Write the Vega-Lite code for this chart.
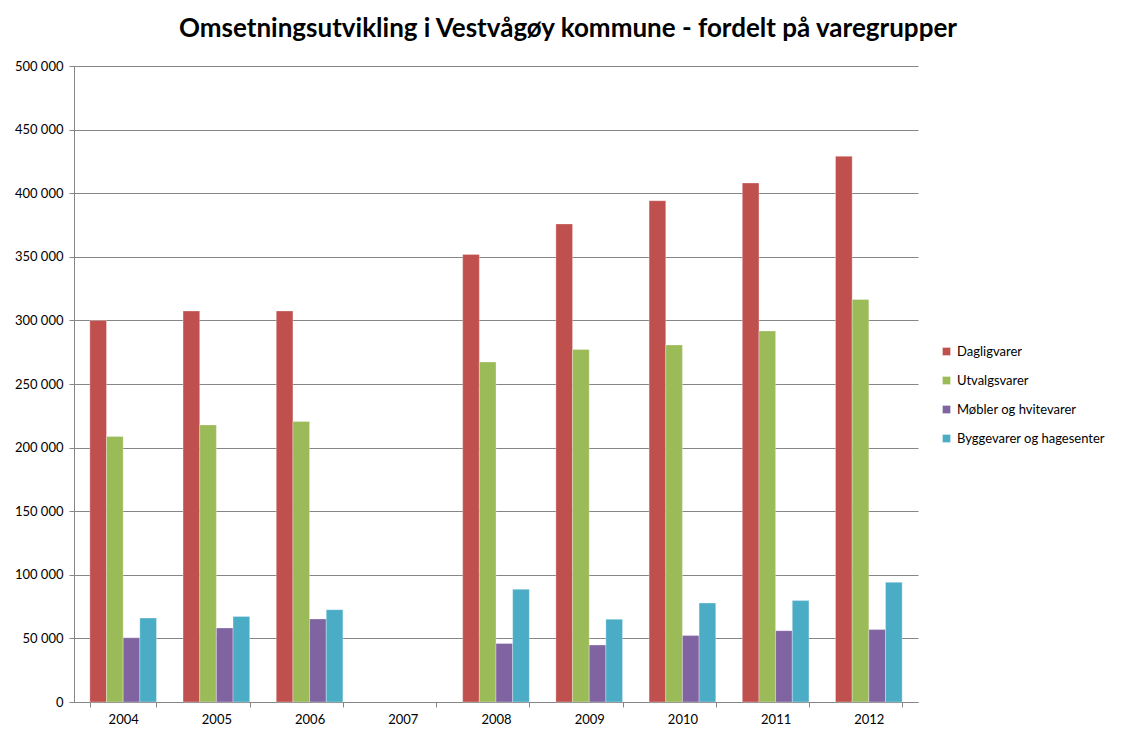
{
  "$schema": "https://vega.github.io/schema/vega-lite/v6.json",
  "width": 844,
  "height": 636,
  "autosize": {"type": "none"},
  "padding": {"left": 74, "top": 66, "right": 218, "bottom": 41},
  "background": "white",
  "title": {
    "text": "Omsetningsutvikling i Vestvågøy kommune - fordelt på varegrupper",
    "font": "Lato",
    "fontSize": 26,
    "fontWeight": "bold",
    "color": "#000000",
    "anchor": "middle",
    "dx": 72,
    "offset": 18
  },
  "data": {
    "values": [
      {"year": "2004", "group": "Dagligvarer", "value": 300000},
      {"year": "2004", "group": "Utvalgsvarer", "value": 208800},
      {"year": "2004", "group": "Møbler og hvitevarer", "value": 50500},
      {"year": "2004", "group": "Byggevarer og hagesenter", "value": 66000},
      {"year": "2005", "group": "Dagligvarer", "value": 307400},
      {"year": "2005", "group": "Utvalgsvarer", "value": 217800},
      {"year": "2005", "group": "Møbler og hvitevarer", "value": 58200},
      {"year": "2005", "group": "Byggevarer og hagesenter", "value": 67300},
      {"year": "2006", "group": "Dagligvarer", "value": 307400},
      {"year": "2006", "group": "Utvalgsvarer", "value": 220600},
      {"year": "2006", "group": "Møbler og hvitevarer", "value": 65300},
      {"year": "2006", "group": "Byggevarer og hagesenter", "value": 72600},
      {"year": "2008", "group": "Dagligvarer", "value": 351900},
      {"year": "2008", "group": "Utvalgsvarer", "value": 267300},
      {"year": "2008", "group": "Møbler og hvitevarer", "value": 46000},
      {"year": "2008", "group": "Byggevarer og hagesenter", "value": 88600},
      {"year": "2009", "group": "Dagligvarer", "value": 375800},
      {"year": "2009", "group": "Utvalgsvarer", "value": 277200},
      {"year": "2009", "group": "Møbler og hvitevarer", "value": 44800},
      {"year": "2009", "group": "Byggevarer og hagesenter", "value": 65000},
      {"year": "2010", "group": "Dagligvarer", "value": 394100},
      {"year": "2010", "group": "Utvalgsvarer", "value": 280700},
      {"year": "2010", "group": "Møbler og hvitevarer", "value": 52200},
      {"year": "2010", "group": "Byggevarer og hagesenter", "value": 77800},
      {"year": "2011", "group": "Dagligvarer", "value": 408000},
      {"year": "2011", "group": "Utvalgsvarer", "value": 291700},
      {"year": "2011", "group": "Møbler og hvitevarer", "value": 56100},
      {"year": "2011", "group": "Byggevarer og hagesenter", "value": 79700},
      {"year": "2012", "group": "Dagligvarer", "value": 429000},
      {"year": "2012", "group": "Utvalgsvarer", "value": 316500},
      {"year": "2012", "group": "Møbler og hvitevarer", "value": 56900},
      {"year": "2012", "group": "Byggevarer og hagesenter", "value": 94100}
    ]
  },
  "mark": {"type": "bar"},
  "encoding": {
    "x": {
      "field": "year",
      "type": "nominal",
      "scale": {
        "domain": ["2004", "2005", "2006", "2007", "2008", "2009", "2010", "2011", "2012"],
        "paddingInner": 0.285,
        "paddingOuter": 0.17
      },
      "axis": {
        "title": null,
        "labelAngle": 0,
        "tickBand": "extent",
        "tickSize": 5,
        "tickColor": "#868686",
        "domainColor": "#868686",
        "labelFont": "Lato",
        "labelFontSize": 13,
        "labelColor": "#000000",
        "labelPadding": 6,
        "grid": false
      }
    },
    "xOffset": {
      "field": "group",
      "type": "nominal",
      "scale": {"domain": ["Dagligvarer", "Utvalgsvarer", "Møbler og hvitevarer", "Byggevarer og hagesenter"], "paddingInner": 0, "paddingOuter": 0}
    },
    "y": {
      "field": "value",
      "type": "quantitative",
      "scale": {"domain": [0, 500000], "nice": false},
      "axis": {
        "title": null,
        "values": [0, 50000, 100000, 150000, 200000, 250000, 300000, 350000, 400000, 450000, 500000],
        "labelExpr": "replace(format(datum.value, ','), ',', ' ')",
        "tickSize": 5,
        "tickColor": "#868686",
        "domainColor": "#868686",
        "gridColor": "#868686",
        "gridWidth": 1,
        "labelFont": "Lato",
        "labelFontSize": 13,
        "labelColor": "#000000",
        "labelPadding": 6
      }
    },
    "color": {
      "field": "group",
      "type": "nominal",
      "scale": {
        "domain": ["Dagligvarer", "Utvalgsvarer", "Møbler og hvitevarer", "Byggevarer og hagesenter"],
        "range": ["#C0504D", "#9BBB59", "#8064A2", "#4BACC6"]
      },
      "legend": {
        "title": null,
        "orient": "none",
        "legendX": 866,
        "legendY": 279,
        "symbolType": "square",
        "symbolSize": 64,
        "symbolStrokeWidth": 0,
        "labelFont": "Lato",
        "labelFontSize": 13,
        "labelColor": "#000000",
        "rowPadding": 15,
        "labelOffset": 4
      }
    }
  },
  "config": {
    "view": {"stroke": null},
    "bar": {"stroke": "white", "strokeWidth": 0.5, "strokeOpacity": 0.6}
  }
}
